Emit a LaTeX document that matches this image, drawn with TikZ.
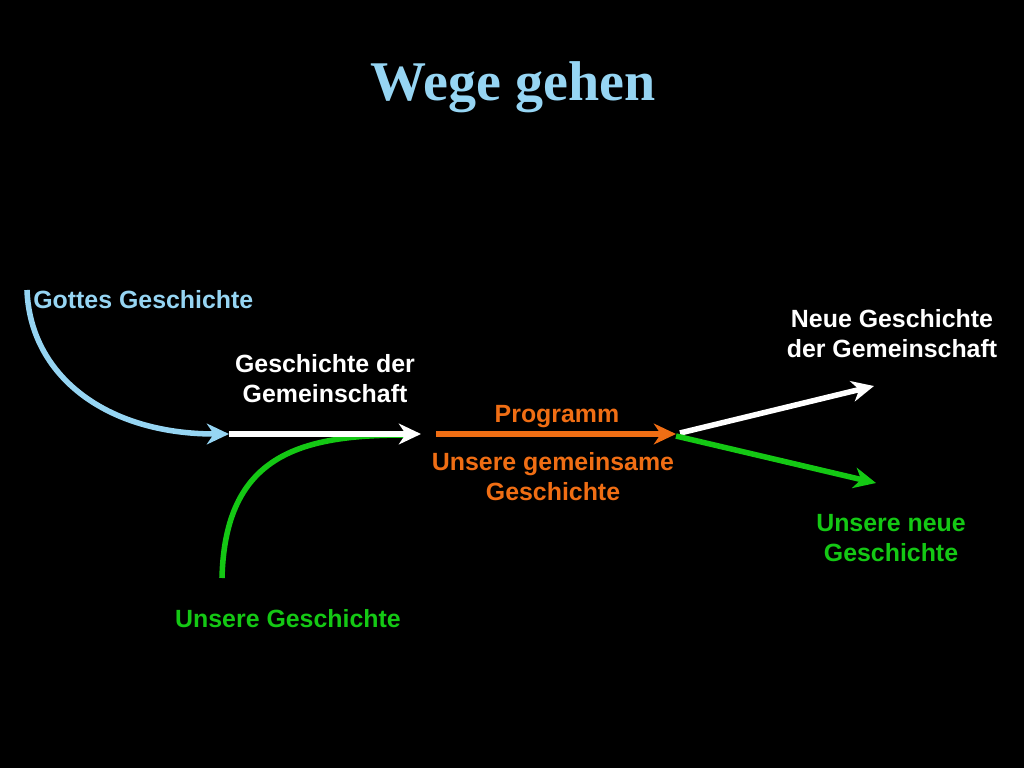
\documentclass[tikz,border=0pt]{standalone}
\usepackage{fontspec}
\setmainfont{Liberation Sans}
\newfontfamily\titlefont{Liberation Serif}
\usetikzlibrary{arrows.meta}
\definecolor{gottblue}{RGB}{150,213,243}
\definecolor{wegorange}{RGB}{240,110,20}
\definecolor{weggreen}{RGB}{20,200,20}
\tikzstyle{weg}=[line width=4pt, -{Stealth[length=16pt,width=15pt,inset=5pt]}]
\tikzstyle{label}=[anchor=base, align=center, inner sep=0pt, font=\fontsize{18}{21.6}\selectfont\bfseries]

\begin{document}
\begin{tikzpicture}[x=0.0254cm,y=-0.0254cm]
  \fill[black] (0,0) rectangle (1024,768);
  \useasboundingbox (0,0) rectangle (1024,768);
  % title
  \node[anchor=base, inner sep=0pt, text=gottblue, font=\titlefont\fontsize{40.5}{48}\selectfont\bfseries] (titel) at (513,100) {Wege gehen};
  % path points
  \coordinate (gottstart) at (27,290);
  \coordinate (gottend) at (229,434);
  \coordinate (gemend) at (421,434);
  \coordinate (unsstart) at (222,578);
  \coordinate (unsend) at (405,435);
  \coordinate (progstart) at (436,434);
  \coordinate (progend) at (676,434);
  \coordinate (neustart) at (680,433);
  \coordinate (neuend) at (874,386);
  \coordinate (grstart) at (676,436);
  \coordinate (grend) at (876,483);
  % paths
  \draw[weg, gottblue] (gottstart) .. controls (30,375) and (105,434) .. (gottend);
  \draw[line width=4pt, weggreen] (unsstart) .. controls (225,455) and (300,435) .. (unsend);
  \draw[weg, white] (gottend) -- (gemend);
  \draw[weg, wegorange] (progstart) -- (progend);
  \draw[weg, white] (neustart) -- (neuend);
  \draw[weg, weggreen] (grstart) -- (grend);
  % labels
  \node[label, text=gottblue, anchor=base west] (gott) at (33,308) {Gottes Geschichte};
  \node[label, text=white] (gemeinschaft) at (325,402) {Geschichte der\\Gemeinschaft};
  \node[label, text=wegorange] (programm) at (557,422) {Programm};
  \node[label, text=wegorange] (gemeinsam) at (553,500) {Unsere gemeinsame\\Geschichte};
  \node[label, text=weggreen] (unsere) at (288,627) {Unsere Geschichte};
  \node[label, text=white] (neue) at (892,357) {Neue Geschichte\\der Gemeinschaft};
  \node[label, text=weggreen] (unsereneue) at (891,561) {Unsere neue\\Geschichte};
\end{tikzpicture}
\end{document}
